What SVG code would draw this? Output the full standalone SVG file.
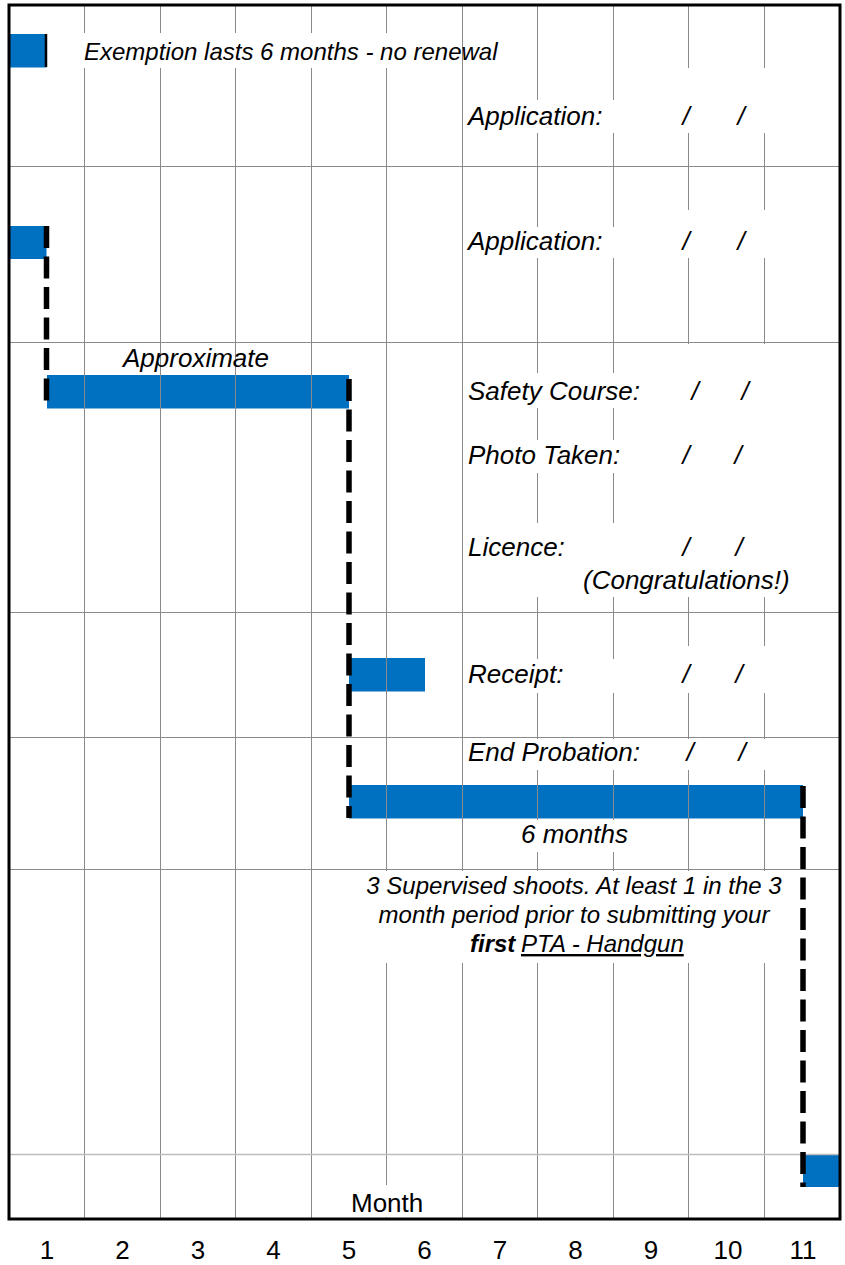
<svg xmlns="http://www.w3.org/2000/svg" width="845" height="1265" viewBox="0 0 845 1265">
<style>
.bar{fill:#0070C0}
.grid line{stroke:#8a8a8a;stroke-width:1}
.mask{fill:#ffffff}
.t{font-family:"Liberation Sans",Arial,sans-serif;font-style:italic;font-size:26px;fill:#000}
.s{font-family:"Liberation Sans",Arial,sans-serif;font-style:italic;font-size:26px;fill:#000;text-anchor:middle}
.n{font-family:"Liberation Sans",Arial,sans-serif;font-size:26px;fill:#000;text-anchor:middle}
.dash{stroke:#000;stroke-width:5.5;stroke-dasharray:22 8.5;fill:none}
</style>
<rect x="0" y="0" width="845" height="1265" fill="#fff"/>
<g id="bars">
<rect id="bar-exemption" class="bar" x="9" y="34" width="37.5" height="33.5"/>
<rect id="bar-application" class="bar" x="9" y="226" width="37.5" height="33"/>
<rect id="bar-approximate" class="bar" x="47" y="375" width="302" height="33.5"/>
<rect id="bar-receipt" class="bar" x="349" y="658" width="76" height="33.5"/>
<rect id="bar-probation" class="bar" x="349" y="785" width="454" height="33.5"/>
<rect id="bar-end" class="bar" x="803" y="1154" width="37" height="33"/>
</g>
<g class="grid">
<line x1="84.5" y1="5" x2="84.5" y2="1219"/>
<line x1="160.5" y1="5" x2="160.5" y2="1219"/>
<line x1="235.5" y1="5" x2="235.5" y2="1219"/>
<line x1="311.5" y1="5" x2="311.5" y2="1219"/>
<line x1="386.5" y1="5" x2="386.5" y2="1219"/>
<line x1="462.5" y1="5" x2="462.5" y2="1219"/>
<line x1="537.5" y1="5" x2="537.5" y2="1219"/>
<line x1="613.5" y1="5" x2="613.5" y2="1219"/>
<line x1="688.5" y1="5" x2="688.5" y2="1219"/>
<line x1="764.5" y1="5" x2="764.5" y2="1219"/>
<line x1="9" y1="166.5" x2="840" y2="166.5"/>
<line x1="9" y1="342.5" x2="840" y2="342.5"/>
<line x1="9" y1="612.5" x2="840" y2="612.5"/>
<line x1="9" y1="737.5" x2="840" y2="737.5"/>
<line x1="9" y1="869.5" x2="840" y2="869.5"/>
<line x1="9" y1="1154.5" x2="840" y2="1154.5" style="stroke:#bdbdbd;stroke-width:1.5"/>
</g>
<g id="text-backgrounds">
<rect class="mask" x="80" y="33" width="381" height="35"/>
<rect class="mask" x="464" y="100" width="166" height="33"/>
<rect class="mask" x="640" y="68" width="198" height="65"/>
<rect class="mask" x="464" y="227" width="166" height="31"/>
<rect class="mask" x="640" y="210" width="198" height="48"/>
<rect class="mask" x="464" y="373" width="374" height="35"/>
<rect class="mask" x="464" y="440" width="374" height="33"/>
<rect class="mask" x="464" y="523" width="374" height="74"/>
<rect class="mask" x="640" y="344" width="198" height="253"/>
<rect class="mask" x="464" y="659" width="166" height="34"/>
<rect class="mask" x="640" y="646" width="198" height="47"/>
<rect class="mask" x="464" y="739" width="374" height="31"/>
<rect class="mask" x="505" y="820" width="145" height="32"/>
<rect class="mask" x="330" y="871" width="468" height="92"/>
<rect class="mask" x="330" y="1185" width="115" height="32"/>
</g>
<g id="connectors">
<line x1="46" y1="34" x2="46" y2="67" stroke="#000" stroke-width="2.5"/>
<line class="dash" x1="46.5" y1="226" x2="46.5" y2="403"/>
<line class="dash" x1="349" y1="379" x2="349" y2="818"/>
<line class="dash" x1="803" y1="786" x2="803" y2="1187"/>
</g>
<g id="node-exemption"><text class="t" x="84" y="60" style="font-size:24px">Exemption lasts 6 months - no renewal</text></g>
<g id="node-application1">
<text class="t" x="468" y="125">Application:</text>
<text class="s" x="686" y="125">/</text><text class="s" x="741" y="125">/</text>
</g>
<g id="node-application2">
<text class="t" x="468" y="250">Application:</text>
<text class="s" x="686" y="250">/</text><text class="s" x="741" y="250">/</text>
</g>
<g id="node-approximate"><text class="t" x="123" y="367">Approximate</text></g>
<g id="node-safety">
<text class="t" x="468" y="400">Safety Course:</text>
<text class="s" x="695" y="400">/</text><text class="s" x="745" y="400">/</text>
</g>
<g id="node-photo">
<text class="t" x="468" y="464">Photo Taken:</text>
<text class="s" x="686" y="464">/</text><text class="s" x="738" y="464">/</text>
</g>
<g id="node-licence">
<text class="t" x="468" y="556">Licence:</text>
<text class="s" x="686" y="556">/</text><text class="s" x="739" y="556">/</text>
<text class="t" x="583" y="589">(Congratulations!)</text>
</g>
<g id="node-receipt">
<text class="t" x="468" y="683">Receipt:</text>
<text class="s" x="686" y="683">/</text><text class="s" x="739" y="683">/</text>
</g>
<g id="node-probation">
<text class="t" x="468" y="761">End Probation:</text>
<text class="s" x="690" y="761">/</text><text class="s" x="742" y="761">/</text>
</g>
<g id="node-6months"><text class="t" x="521" y="843">6 months</text></g>
<g id="node-supervised">
<text class="s" x="574" y="894" style="font-size:24px">3 Supervised shoots. At least 1 in the 3</text>
<text class="s" x="574" y="923" style="font-size:24px">month period prior to submitting your</text>
<text class="t" x="470" y="952" style="font-size:24px;font-weight:bold">first</text>
<text class="t" x="521" y="952" style="font-size:24px;text-decoration:underline">PTA - Handgun</text>
</g>
<g id="node-month"><text class="n" x="387" y="1212" style="text-anchor:start" transform="translate(-36 0)">Month</text></g>
<g id="axis">
<text class="n" x="47" y="1259">1</text>
<text class="n" x="122.5" y="1259">2</text>
<text class="n" x="198" y="1259">3</text>
<text class="n" x="273.5" y="1259">4</text>
<text class="n" x="349" y="1259">5</text>
<text class="n" x="424.5" y="1259">6</text>
<text class="n" x="500" y="1259">7</text>
<text class="n" x="575.5" y="1259">8</text>
<text class="n" x="651" y="1259">9</text>
<text class="n" x="728" y="1259">10</text>
<text class="n" x="803" y="1259">11</text>
</g>
<rect id="frame" x="9" y="5" width="831" height="1214" fill="none" stroke="#000" stroke-width="3"/>
</svg>
